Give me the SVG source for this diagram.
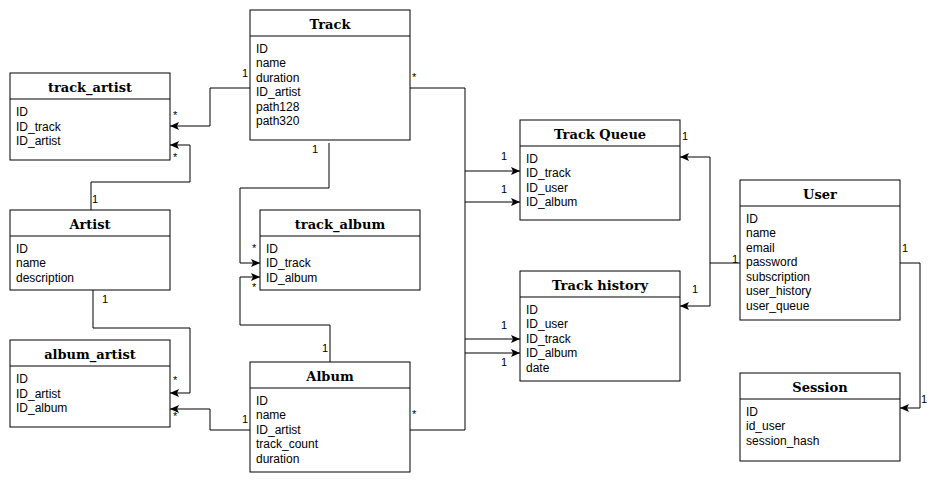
<svg xmlns="http://www.w3.org/2000/svg" width="941" height="486" viewBox="0 0 941 486">
<style>
.box{fill:#fff;stroke:#000;stroke-width:1}
.hd{stroke:#000;stroke-width:1}
.t{font-family:"DejaVu Serif",serif;font-weight:bold;font-size:13px;text-anchor:middle;fill:#000}
.a{font-family:"Liberation Sans",Arial,sans-serif;font-size:12px;fill:#000}
.l{font-family:"Liberation Sans",Arial,sans-serif;font-size:11px;fill:#000}
.c{fill:none;stroke:#000;stroke-width:1;marker-end:url(#arr)}
.p{fill:none;stroke:#000;stroke-width:1}
</style>
<defs>
<marker id="arr" markerUnits="userSpaceOnUse" markerWidth="10" markerHeight="8" viewBox="0 0 10 8" refX="9" refY="4" orient="auto">
<path d="M0,0 L9,4 L0,8 L2,4 z" fill="#000"/>
</marker>
</defs>
<rect width="941" height="486" fill="#fff"/>

<g id="connectors">
<path class="c" d="M250,88 H210 V126 H170"/>
<path class="c" d="M91,210 V182 H190 V145 H170"/>
<path class="c" d="M329,143 V188 H240 V263 H260"/>
<path class="c" d="M330,362 V325 H240 V277 H260"/>
<path class="c" d="M93,290 V328 H190 V393 H170"/>
<path class="c" d="M250,430 H210 V409 H170"/>
<path class="p" d="M410,88 H465 V430 H410"/>
<path class="c" d="M465,171 H520"/>
<path class="c" d="M465,202 H520"/>
<path class="c" d="M465,339 H520"/>
<path class="c" d="M465,353 H520"/>
<path class="c" d="M740,263 H710 V157 H680"/>
<path class="c" d="M710,263 V306 H680"/>
<path class="c" d="M900,263 H920 V408 H900"/>
<text class="l" x="242" y="77">1</text>
<text class="l" x="173" y="119">*</text>
<text class="l" x="173" y="161">*</text>
<text class="l" x="92" y="203">1</text>
<text class="l" x="312" y="153">1</text>
<text class="l" x="252" y="252">*</text>
<text class="l" x="252" y="291">*</text>
<text class="l" x="322" y="352">1</text>
<text class="l" x="102" y="303">1</text>
<text class="l" x="173" y="384">*</text>
<text class="l" x="173" y="420">*</text>
<text class="l" x="242" y="423">1</text>
<text class="l" x="412" y="81">*</text>
<text class="l" x="412" y="418">*</text>
<text class="l" x="501" y="160">1</text>
<text class="l" x="501" y="193">1</text>
<text class="l" x="501" y="329">1</text>
<text class="l" x="501" y="366">1</text>
<text class="l" x="682" y="140">1</text>
<text class="l" x="692" y="293">1</text>
<text class="l" x="732" y="263">1</text>
<text class="l" x="902" y="252">1</text>
<text class="l" x="921" y="403">1</text>
</g>

<g id="track">
<rect class="box" x="250" y="10" width="160" height="130"/>
<line class="hd" x1="250" y1="36" x2="410" y2="36"/>
<text class="t" x="330" y="29">Track</text>
<text class="a" x="256" y="52.5">ID</text>
<text class="a" x="256" y="67">name</text>
<text class="a" x="256" y="81.5">duration</text>
<text class="a" x="256" y="96">ID_artist</text>
<text class="a" x="256" y="110.5">path128</text>
<text class="a" x="256" y="125">path320</text>
</g>

<g id="track_artist">
<rect class="box" x="10" y="73" width="160" height="87"/>
<line class="hd" x1="10" y1="99" x2="170" y2="99"/>
<text class="t" x="90" y="92">track_artist</text>
<text class="a" x="16" y="116">ID</text>
<text class="a" x="16" y="130.5">ID_track</text>
<text class="a" x="16" y="145">ID_artist</text>
</g>

<g id="artist">
<rect class="box" x="10" y="210" width="160" height="80"/>
<line class="hd" x1="10" y1="236" x2="170" y2="236"/>
<text class="t" x="90" y="229">Artist</text>
<text class="a" x="16" y="252.5">ID</text>
<text class="a" x="16" y="267">name</text>
<text class="a" x="16" y="281.5">description</text>
</g>

<g id="track_album">
<rect class="box" x="260" y="210" width="160" height="80"/>
<line class="hd" x1="260" y1="236" x2="420" y2="236"/>
<text class="t" x="340" y="229">track_album</text>
<text class="a" x="266" y="252.5">ID</text>
<text class="a" x="266" y="267">ID_track</text>
<text class="a" x="266" y="281.5">ID_album</text>
</g>

<g id="album_artist">
<rect class="box" x="10" y="340" width="160" height="87"/>
<line class="hd" x1="10" y1="366" x2="170" y2="366"/>
<text class="t" x="90" y="359">album_artist</text>
<text class="a" x="16" y="383">ID</text>
<text class="a" x="16" y="397.5">ID_artist</text>
<text class="a" x="16" y="412">ID_album</text>
</g>

<g id="album">
<rect class="box" x="250" y="362" width="160" height="110"/>
<line class="hd" x1="250" y1="388" x2="410" y2="388"/>
<text class="t" x="330" y="381">Album</text>
<text class="a" x="256" y="404.5">ID</text>
<text class="a" x="256" y="419">name</text>
<text class="a" x="256" y="433.5">ID_artist</text>
<text class="a" x="256" y="448">track_count</text>
<text class="a" x="256" y="462.5">duration</text>
</g>

<g id="track_queue">
<rect class="box" x="520" y="120" width="160" height="100"/>
<line class="hd" x1="520" y1="146" x2="680" y2="146"/>
<text class="t" x="600" y="139">Track Queue</text>
<text class="a" x="526" y="162.5">ID</text>
<text class="a" x="526" y="177">ID_track</text>
<text class="a" x="526" y="191.5">ID_user</text>
<text class="a" x="526" y="206">ID_album</text>
</g>

<g id="track_history">
<rect class="box" x="520" y="271" width="160" height="110"/>
<line class="hd" x1="520" y1="297" x2="680" y2="297"/>
<text class="t" x="600" y="290">Track history</text>
<text class="a" x="526" y="313.5">ID</text>
<text class="a" x="526" y="328">ID_user</text>
<text class="a" x="526" y="342.5">ID_track</text>
<text class="a" x="526" y="357">ID_album</text>
<text class="a" x="526" y="371.5">date</text>
</g>

<g id="user">
<rect class="box" x="740" y="180" width="160" height="140"/>
<line class="hd" x1="740" y1="206" x2="900" y2="206"/>
<text class="t" x="820" y="199">User</text>
<text class="a" x="746" y="222.5">ID</text>
<text class="a" x="746" y="237">name</text>
<text class="a" x="746" y="251.5">email</text>
<text class="a" x="746" y="266">password</text>
<text class="a" x="746" y="280.5">subscription</text>
<text class="a" x="746" y="295">user_history</text>
<text class="a" x="746" y="309.5">user_queue</text>
</g>

<g id="session">
<rect class="box" x="740" y="373" width="160" height="88"/>
<line class="hd" x1="740" y1="399" x2="900" y2="399"/>
<text class="t" x="820" y="392">Session</text>
<text class="a" x="746" y="415.5">ID</text>
<text class="a" x="746" y="430">id_user</text>
<text class="a" x="746" y="444.5">session_hash</text>
</g>
</svg>
